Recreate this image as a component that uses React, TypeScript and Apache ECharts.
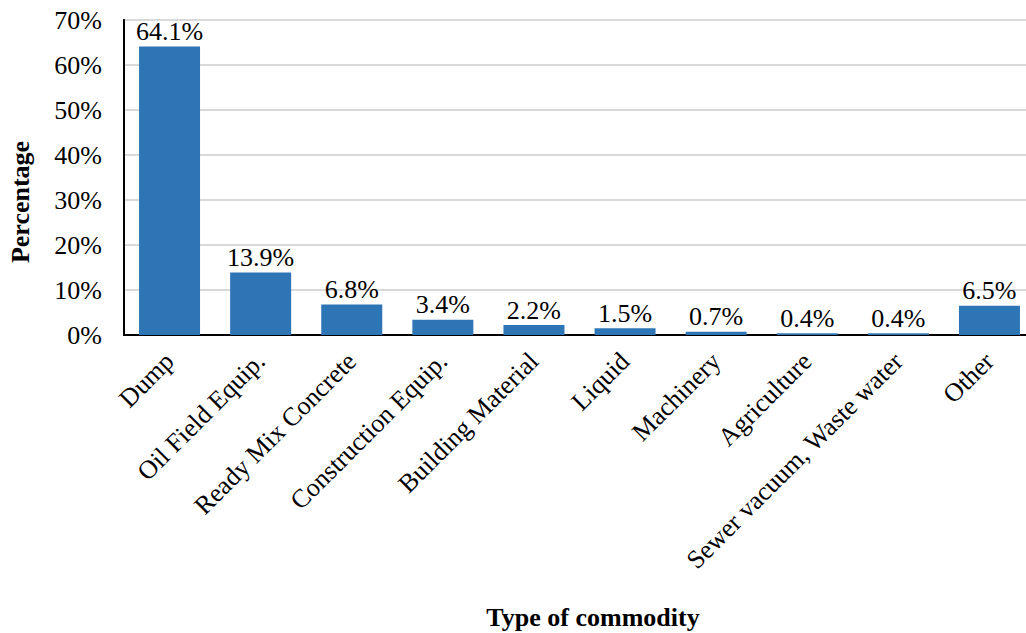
import React, { useEffect, useRef } from "react";
import * as echarts from "echarts";

const categories = [
  "Dump",
  "Oil Field Equip.",
  "Ready Mix Concrete",
  "Construction Equip.",
  "Building Material",
  "Liquid",
  "Machinery",
  "Agriculture",
  "Sewer vacuum, Waste water",
  "Other",
];
const values = [64.1, 13.9, 6.8, 3.4, 2.2, 1.5, 0.7, 0.4, 0.4, 6.5];
const yTicks = { min: 0, max: 70, interval: 10 };
const yTitle = "Percentage";
const xTitle = "Type of commodity";

const FONT = "'Liberation Serif', 'Times New Roman', serif";

export default function App() {
  const ref = useRef<HTMLDivElement>(null);

  useEffect(() => {
    if (!ref.current) return;
    const chart = echarts.init(ref.current, undefined, { renderer: "svg" });
    chart.setOption({
      animation: false,
      grid: {
        left: 124,
        width: 911,
        top: 20,
        height: 315,
        show: true,
        borderColor: "#000",
        borderWidth: 2,
        containLabel: false,
        outerBoundsMode: "none",
      },
      xAxis: {
        type: "category",
        data: categories,
        axisLine: { show: true, lineStyle: { color: "#000", width: 2 } },
        axisTick: { show: false },
        axisLabel: {
          rotate: 45,
          interval: 0,
          margin: 22,
          fontFamily: FONT,
          fontSize: 26,
          color: "#000",
        },
      },
      yAxis: {
        type: "value",
        min: yTicks.min,
        max: yTicks.max,
        interval: yTicks.interval,
        axisLine: { show: true, lineStyle: { color: "#000", width: 2 } },
        axisTick: { show: false },
        splitLine: { lineStyle: { color: "#d9d9d9", width: 2 } },
        axisLabel: {
          formatter: "{value}%",
          margin: 22,
          fontFamily: FONT,
          fontSize: 26,
          color: "#000",
        },
      },
      series: [
        {
          type: "bar",
          data: values,
          barWidth: 61,
          itemStyle: { color: "#2e75b6" },
          label: {
            show: true,
            position: "top",
            distance: 2,
            formatter: (p: any) => p.value.toFixed(1) + "%",
            fontFamily: FONT,
            fontSize: 26,
            color: "#000",
          },
        },
      ],
      graphic: [
        {
          type: "text",
          x: 20,
          y: 202,
          rotation: Math.PI / 2,
          style: {
            text: yTitle,
            font: `bold 26px ${FONT}`,
            fill: "#000",
            align: "center",
            verticalAlign: "middle",
          },
        },
        {
          type: "text",
          x: 593,
          y: 617,
          style: {
            text: xTitle,
            font: `bold 26px ${FONT}`,
            fill: "#000",
            align: "center",
            verticalAlign: "middle",
          },
        },
      ],
    });
    return () => chart.dispose();
  }, []);

  return (
    <div
      ref={ref}
      style={{ position: "fixed", left: 0, top: 0, width: 1026, height: 633, background: "#fff" }}
    />
  );
}
